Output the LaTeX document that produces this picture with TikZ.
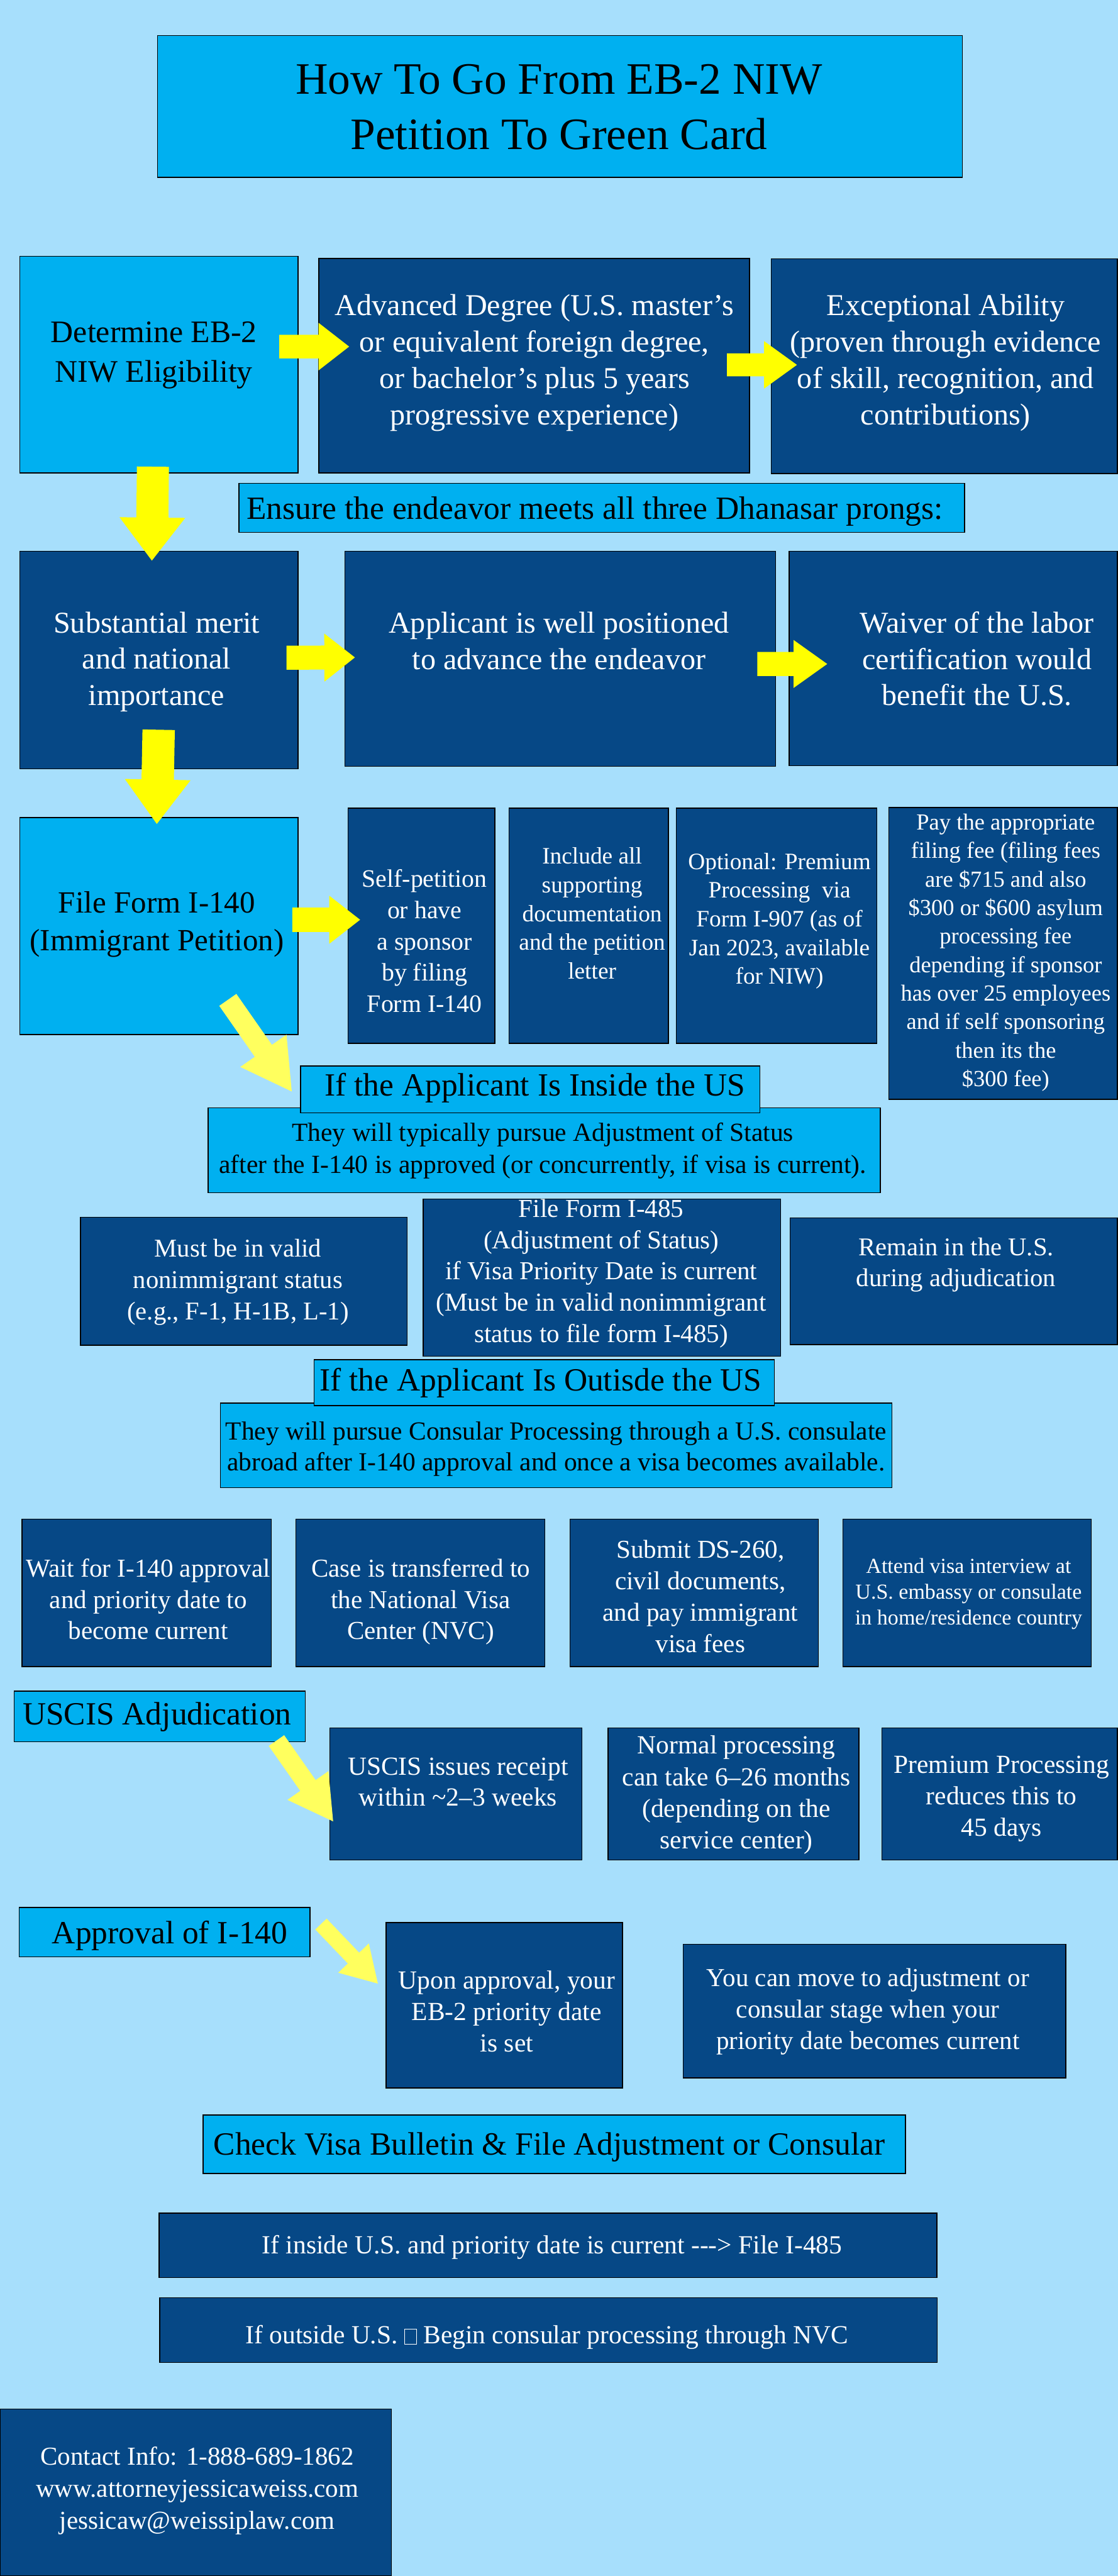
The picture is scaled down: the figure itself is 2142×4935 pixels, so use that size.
\documentclass[tikz,border=0pt]{standalone}
\usepackage{fontspec}
\setmainfont{Liberation Serif}
\usetikzlibrary{calc}
\definecolor{bgblue}{HTML}{A7DFFC}
\definecolor{midblue}{HTML}{00B0F0}
\definecolor{darkblue}{HTML}{064886}
\definecolor{arrowyellow}{HTML}{FFFF00}
\definecolor{paleyellow}{HTML}{FFFF5E}
\newcommand\mkbox[6]{\node[#1, minimum width={#5-#3}, minimum height={#6-#4}] (#2) at ({(#3+#5)/2},{(#4+#6)/2}) {};}
\newcommand\mktext[6]{\node[#1, font={\fontsize{#4}{#5}\selectfont}] (#2) at (#3) {#6};}
\newcommand\blockarrow[6]{%
  \coordinate (ab) at ($(#3)!#6pt!(#2)$);
  \fill[#1] ($(#2)!#4pt!90:(#3)$) -- ($(ab)!#4pt!-90:(#2)$) -- ($(ab)!#5pt!-90:(#2)$) -- (#3)
    -- ($(ab)!#5pt!90:(#2)$) -- ($(ab)!#4pt!90:(#2)$) -- ($(#2)!#4pt!-90:(#3)$) -- cycle;}
\newcommand\tofu{{\setlength{\fboxsep}{0pt}\setlength{\fboxrule}{1.5pt}\fbox{\rule{0pt}{0.55em}\hspace{0.42em}}}}
\begin{document}
\begin{tikzpicture}[x=1pt,y=-1pt,
  box/.style={draw=black, line width=1.8pt, inner sep=0pt, rectangle},
  mbox/.style={box, fill=midblue},
  dbox/.style={box, fill=darkblue},
  txt/.style={inner sep=0pt, align=center, execute at begin node=\strut, execute at end node=\strut},
  wtxt/.style={txt, text=white},
  btxt/.style={txt, text=black}]
\useasboundingbox (0,0) rectangle (2142,4935);
\fill[bgblue] (0,0) rectangle (2142,4935);
% boxes
\mkbox{mbox}{title}{302}{68}{1844}{340}
\mkbox{mbox}{determine}{38}{491}{571}{906}
\mkbox{dbox}{advanced}{611}{495}{1436}{906}
\mkbox{dbox}{exceptional}{1478}{496}{2141}{907}
\mkbox{mbox}{ensure}{458}{926}{1848}{1020}
\mkbox{dbox}{substantial}{38}{1056}{571}{1473}
\mkbox{dbox}{applicant}{661}{1056}{1486}{1468}
\mkbox{dbox}{waiver}{1512}{1056}{2141}{1467}
\mkbox{mbox}{filei140}{38}{1566}{571}{1982}
\mkbox{dbox}{selfpet}{667}{1548}{948}{1999}
\mkbox{dbox}{include}{975}{1548}{1281}{1999}
\mkbox{dbox}{optional}{1296}{1548}{1680}{1999}
\mkbox{dbox}{pay}{1703}{1547}{2141}{2106}
\mkbox{mbox}{typically}{399}{2122}{1687}{2285}
\mkbox{mbox}{inside}{576}{2042}{1456}{2132}
\mkbox{dbox}{mustvalid}{154}{2332}{780}{2577}
\mkbox{dbox}{i485}{811}{2297}{1496}{2598}
\mkbox{dbox}{remain}{1514}{2333}{2141}{2576}
\mkbox{mbox}{consular}{422}{2688}{1709}{2850}
\mkbox{mbox}{outside}{602}{2605}{1484}{2693}
\mkbox{dbox}{wait}{42}{2910}{520}{3193}
\mkbox{dbox}{case}{567}{2910}{1044}{3193}
\mkbox{dbox}{submit}{1092}{2910}{1568}{3193}
\mkbox{dbox}{attend}{1615}{2910}{2091}{3193}
\mkbox{mbox}{uscis}{27}{3240}{585}{3337}
\mkbox{dbox}{receipt}{632}{3310}{1115}{3563}
\mkbox{dbox}{normal}{1165}{3310}{1646}{3563}
\mkbox{dbox}{premium}{1690}{3310}{2141}{3563}
\mkbox{mbox}{approval}{37}{3654}{594}{3749}
\mkbox{dbox}{upon}{740}{3683}{1193}{4000}
\mkbox{dbox}{move}{1309}{3725}{2042}{3981}
\mkbox{mbox}{check}{389}{4052}{1735}{4164}
\mkbox{dbox}{ifin}{305}{4240}{1795}{4363}
\mkbox{dbox}{ifout}{306}{4402}{1796}{4526}
\mkbox{dbox}{contact}{0}{4615}{750}{4935}
% texts
\mktext{btxt}{title-t}{1071,220.8}{86}{106}{How To Go From EB-2 NIW\\Petition To Green Card}
\mktext{btxt}{determine-t}{295,685.5}{60}{75}{Determine EB-2\\NIW Eligibility}
\mktext{wtxt}{advanced-t}{1024,699.5}{58}{70}{Advanced Degree (U.S. master’s\\or equivalent foreign degree,\\or bachelor’s plus 5 years\\progressive experience)}
\mktext{wtxt}{exceptional-t}{1812,699.5}{58}{70}{Exceptional Ability\\(proven through evidence\\of skill, recognition, and\\contributions)}
\mktext{btxt}{ensure-t}{1140,979}{62}{75}{Ensure the endeavor meets all three Dhanasar prongs:}
\mktext{wtxt}{substantial-t}{300,1272}{58}{69}{Substantial merit\\and national\\importance}
\mktext{wtxt}{applicant-t}{1071,1237.7}{58}{69}{Applicant is well positioned\\to advance the endeavor}
\mktext{wtxt}{waiver-t}{1872,1272}{58}{69}{Waiver of the labor\\certification would\\benefit the U.S.}
\mktext{btxt}{filei140-t}{300.5,1775.6}{59}{72}{File Form I-140\\(Immigrant Petition)}
\mktext{wtxt}{selfpet-t}{813.5,1811.5}{48}{60}{Self-petition\\or have\\a sponsor\\by filing\\Form I-140}
\mktext{wtxt}{include-t}{1134.5,1758}{45}{55}{Include all\\supporting\\documentation\\and the petition\\letter}
\mktext{wtxt}{optional-t}{1493.5,1768}{45}{55}{Optional: Premium\\Processing\ \ via\\Form I-907 (as of\\Jan 2023, available\\for NIW)}
\mktext{wtxt}{pay-t}{1927,1828.5}{44}{54.6}{Pay the appropriate\\filing fee (filing fees\\are \$715 and also\\\$300 or \$600 asylum\\processing fee\\depending if sponsor\\has over 25 employees\\and if self sponsoring\\then its the\\\$300 fee)}
\mktext{btxt}{typically-t}{1040,2208.5}{50}{61.5}{They will typically pursue Adjustment of Status\\after the I-140 is approved (or concurrently, if visa is current).}
\mktext{btxt}{inside-t}{1025,2085}{62}{74}{If the Applicant Is Inside the US}
\mktext{wtxt}{mustvalid-t}{456,2460}{49}{60}{Must be in valid\\nonimmigrant status\\(e.g., F-1, H-1B, L-1)}
\mktext{wtxt}{i485-t}{1152,2443.6}{49.5}{60}{File Form I-485\\(Adjustment of Status)\\if Visa Priority Date is current\\(Must be in valid nonimmigrant\\status to file form I-485)}
\mktext{wtxt}{remain-t}{1832,2427}{49}{59}{Remain in the U.S.\\during adjudication}
\mktext{btxt}{consular-t}{1065.5,2779.3}{50}{58.7}{They will pursue Consular Processing through a U.S. consulate\\abroad after I-140 approval and once a visa becomes available.}
\mktext{btxt}{outside-t}{1036,2650}{62}{74}{If the Applicant Is Outisde the US}
\mktext{wtxt}{wait-t}{284,3072.5}{49.5}{60}{Wait for I-140 approval\\and priority date to\\become current}
\mktext{wtxt}{case-t}{806,3072.5}{49.5}{60}{Case is transferred to\\the National Visa\\Center (NVC)}
\mktext{wtxt}{submit-t}{1342,3067.4}{49.5}{60.4}{Submit DS-260,\\civil documents,\\and pay immigrant\\visa fees}
\mktext{wtxt}{attend-t}{1856,3056.5}{41}{49.75}{Attend visa interview at\\U.S. embassy or consulate\\in home/residence country}
\mktext{btxt}{uscis-t}{301,3290}{62}{74}{USCIS Adjudication}
\mktext{wtxt}{receipt-t}{877.6,3422}{50}{58.7}{USCIS issues receipt\\within \textasciitilde2–3 weeks}
\mktext{wtxt}{normal-t}{1411,3442.4}{50}{60.4}{Normal processing\\can take 6–26 months\\(depending on the\\service center)}
\mktext{wtxt}{premium-t}{1919,3450}{50}{60}{Premium Processing\\reduces this to\\45 days}
\mktext{btxt}{approval-t}{325.5,3709}{62}{74}{Approval of I-140}
\mktext{wtxt}{upon-t}{971,3861.7}{50}{60.3}{Upon approval, your\\EB-2 priority date\\is set}
\mktext{wtxt}{move-t}{1663,3857}{49.5}{60.2}{You can move to adjustment or\\consular stage when your\\priority date becomes current}
\mktext{btxt}{check-t}{1052.5,4113}{62}{74}{Check Visa Bulletin \& File Adjustment or Consular}
\mktext{wtxt}{ifin-t}{1058,4305.7}{50}{60}{If inside U.S. and priority date is current -{}-{}-> File I-485}
\mktext{wtxt}{ifout-t}{1048,4478}{50}{60}{If outside U.S. \tofu{} Begin consular processing through NVC}
\mktext{wtxt}{contact-t}{378,4775}{49.5}{61.4}{Contact Info: 1-888-689-1862\\www.attorneyjessicaweiss.com\\jessicaw@weissiplaw.com}
% arrow end points
\coordinate (a1t) at (535,664);   \coordinate (a1h) at (669,664);
\coordinate (a2t) at (1393,699);  \coordinate (a2h) at (1527,699);
\coordinate (d1t) at (293,894);   \coordinate (d1h) at (291,1074);
\coordinate (a3t) at (549,1260);  \coordinate (a3h) at (680,1259.5);
\coordinate (a4t) at (1451,1272); \coordinate (a4h) at (1585,1272);
\coordinate (d2t) at (304,1398);  \coordinate (d2h) at (300.5,1578.5);
\coordinate (a5t) at (560,1762);  \coordinate (a5h) at (690,1762);
\coordinate (g1t) at (436.5,1915.5); \coordinate (g1h) at (559,2091);
\coordinate (g2t) at (529.7,3334.5); \coordinate (g2h) at (638.3,3489.3);
\coordinate (g3t) at (615,3686);  \coordinate (g3h) at (724,3800);
% arrows
\blockarrow{arrowyellow}{a1t}{a1h}{22.5}{45.5}{58.5}
\blockarrow{arrowyellow}{a2t}{a2h}{22}{45.5}{63}
\blockarrow{arrowyellow}{d1t}{d1h}{30.7}{63}{82.5}
\blockarrow{arrowyellow}{a3t}{a3h}{23}{46}{58.5}
\blockarrow{arrowyellow}{a4t}{a4h}{23}{46}{64.5}
\blockarrow{arrowyellow}{d2t}{d2h}{31}{63}{85}
\blockarrow{arrowyellow}{a5t}{a5h}{23.4}{46}{59}
\blockarrow{paleyellow}{g1t}{g1h}{20}{54}{95}
\blockarrow{paleyellow}{g2t}{g2h}{18}{48}{84}
\blockarrow{paleyellow}{g3t}{g3h}{15}{40.6}{67.5}
\end{tikzpicture}
\end{document}
